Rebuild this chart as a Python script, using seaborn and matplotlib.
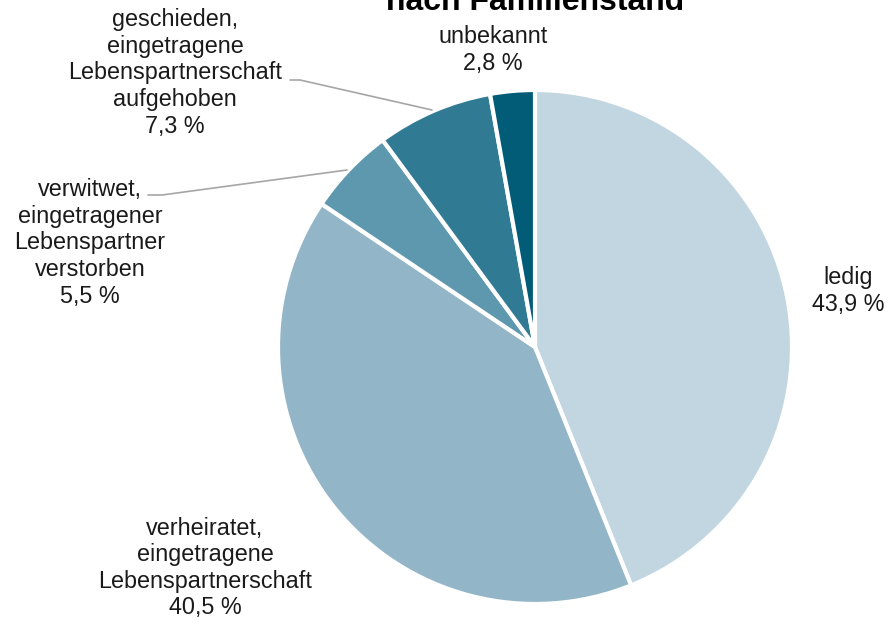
import matplotlib
matplotlib.use("Agg")
import matplotlib.pyplot as plt
import seaborn as sns

categories = ["ledig", "verheiratet,\neingetragene\nLebenspartnerschaft",
              "verwitwet,\neingetragener\nLebenspartner\nverstorben",
              "geschieden,\neingetragene\nLebenspartnerschaft\naufgehoben",
              "unbekannt"]
values = [43.9, 40.5, 5.5, 7.3, 2.8]
value_labels = ["43,9 %", "40,5 %", "5,5 %", "7,3 %", "2,8 %"]
colors = ["#C2D6E2", "#93B5C8", "#5E98AE", "#317A93", "#025C78"]
title = "nach Familienstand"

sns.set_theme(style="white")
plt.rcParams['font.family'] = ['Liberation Sans', 'DejaVu Sans']

W, H = 888, 620
fig = plt.figure(figsize=(W / 100, H / 100), dpi=100)
ax = fig.add_axes([0, 0, 1, 1])
ax.set_xlim(0, W)
ax.set_ylim(0, H)
ax.set_aspect('equal')
ax.axis('off')

pal = sns.color_palette(colors)
cx, cy, r = 535, H - 347, 257
ax.pie(values, colors=pal, startangle=90, counterclock=False,
       center=(cx, cy), radius=r, frame=True,
       wedgeprops=dict(edgecolor="white", linewidth=3))
ax.set_xlim(0, W)
ax.set_ylim(0, H)
ax.axis('off')

fs = 16.8
label_pos = [(848, 291), (205, 568), (90, 243), (175, 73), (493, 50)]
for cat, vl, (x, y) in zip(categories, value_labels, label_pos):
    ax.text(x, H - y, cat + "\n" + vl, ha='center', va='center',
            fontsize=fs, color='#1a1a1a', linespacing=1.2)

# leader lines
ax.plot([290, 300, 432], [H - 80, H - 80, H - 110], color='#a6a6a6', lw=1.2)
ax.plot([148, 162, 347], [H - 195, H - 195, H - 170], color='#a6a6a6', lw=1.2)

ax.text(535, H - 10, title, ha='center', va='baseline', fontsize=23,
        fontweight='bold', color='black')

fig.savefig("out.png", dpi=100)
